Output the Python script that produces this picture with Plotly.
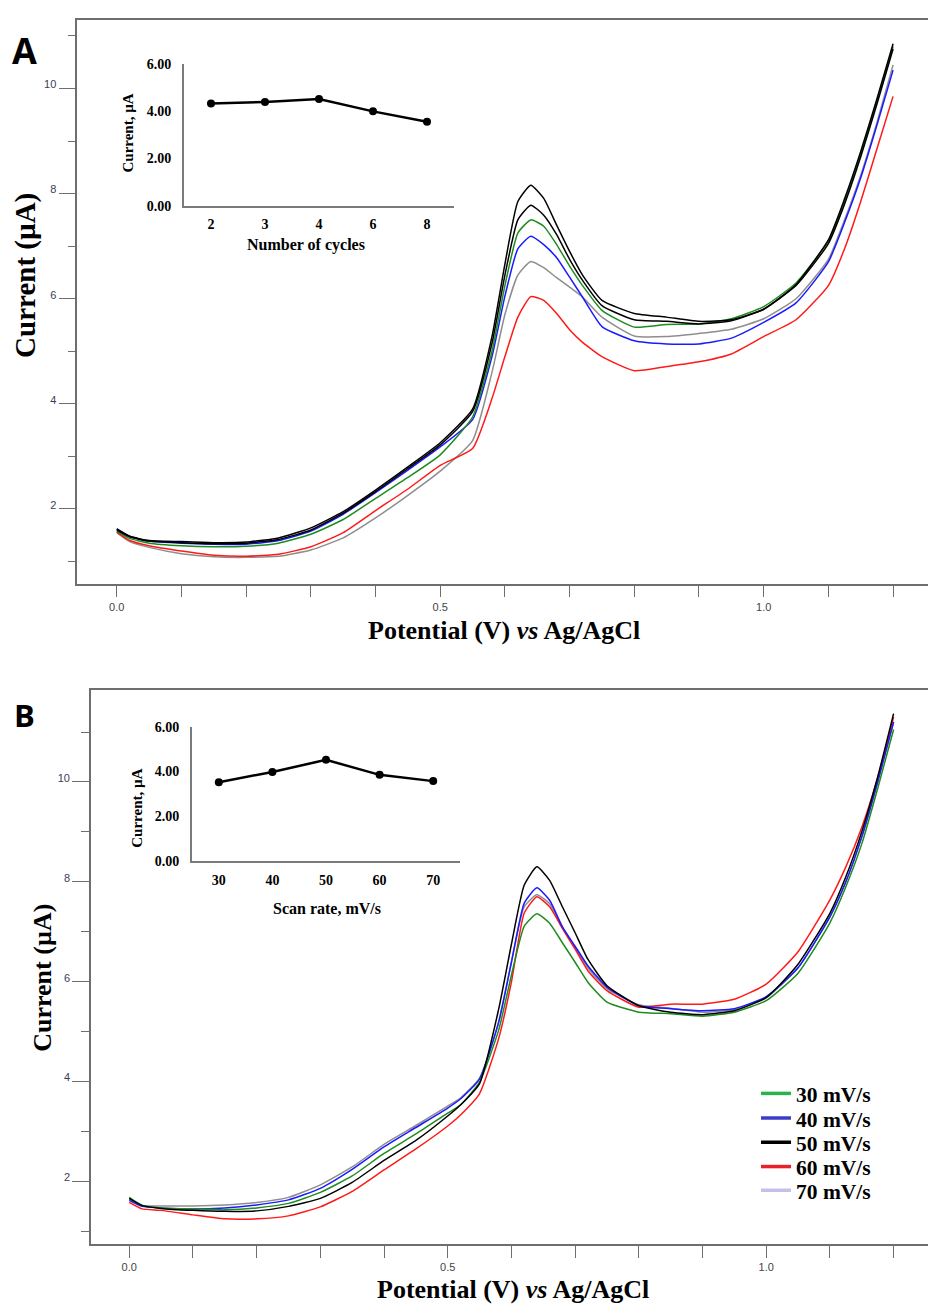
import plotly.graph_objects as go

W, H = 928, 1311

# ---------------- Panel A data (potential vs current) ----------------
VA = [0.0, 0.02, 0.05, 0.1, 0.15, 0.2, 0.25, 0.3, 0.35, 0.4, 0.45, 0.5, 0.55, 0.58, 0.6, 0.62,
      0.64, 0.66, 0.68, 0.7, 0.72, 0.75, 0.8, 0.85, 0.9, 0.95, 1.0, 1.05, 1.1, 1.125, 1.15, 1.175, 1.2]
A_black1 = [1.62, 1.48, 1.40, 1.38, 1.36, 1.37, 1.45, 1.64, 1.95, 2.36, 2.80, 3.26, 3.90, 5.28, 6.66, 7.85,
            8.16, 7.91, 7.40, 6.90, 6.45, 5.97, 5.72, 5.65, 5.57, 5.60, 5.80, 6.27, 7.12, 7.90, 8.80, 9.80, 10.85]
A_black2 = [1.60, 1.47, 1.39, 1.36, 1.34, 1.35, 1.42, 1.60, 1.92, 2.33, 2.77, 3.22, 3.85, 5.15, 6.45, 7.50,
            7.78, 7.59, 7.22, 6.75, 6.35, 5.87, 5.60, 5.57, 5.52, 5.58, 5.80, 6.25, 7.05, 7.80, 8.70, 9.70, 10.75]
A_green = [1.58, 1.44, 1.35, 1.30, 1.28, 1.29, 1.35, 1.52, 1.80, 2.20, 2.60, 3.03, 3.75, 5.00, 6.25, 7.25,
           7.50, 7.38, 7.03, 6.62, 6.25, 5.78, 5.46, 5.51, 5.52, 5.62, 5.85, 6.30, 7.10, 7.85, 8.75, 9.75, 10.80]
A_blue = [1.62, 1.48, 1.39, 1.35, 1.33, 1.33, 1.40, 1.58, 1.90, 2.31, 2.74, 3.18, 3.70, 4.90, 6.05, 6.95,
          7.19, 7.03, 6.78, 6.41, 6.03, 5.47, 5.20, 5.14, 5.14, 5.25, 5.55, 5.92, 6.70, 7.45, 8.30, 9.30, 10.35]
A_gray = [1.55, 1.38, 1.27, 1.15, 1.09, 1.08, 1.10, 1.22, 1.45, 1.83, 2.26, 2.72, 3.30, 4.60, 5.70, 6.45,
          6.71, 6.59, 6.40, 6.22, 6.03, 5.65, 5.29, 5.28, 5.34, 5.42, 5.62, 6.00, 6.75, 7.50, 8.35, 9.35, 10.45]
A_red = [1.56, 1.40, 1.30, 1.20, 1.12, 1.10, 1.14, 1.28, 1.55, 1.97, 2.38, 2.83, 3.15, 4.10, 4.90, 5.65,
         6.04, 5.97, 5.72, 5.41, 5.17, 4.90, 4.63, 4.71, 4.80, 4.95, 5.28, 5.60, 6.25, 6.95, 7.85, 8.85, 9.85]

# inset A
cycles = ["2", "3", "4", "6", "8"]
cycle_current = [4.32, 4.39, 4.51, 3.99, 3.55]

# ---------------- Panel B data ----------------
VB = [0.0, 0.02, 0.05, 0.1, 0.15, 0.2, 0.25, 0.3, 0.35, 0.4, 0.45, 0.5, 0.52, 0.55, 0.58, 0.6, 0.62,
      0.64, 0.66, 0.68, 0.7, 0.72, 0.75, 0.8, 0.85, 0.9, 0.95, 1.0, 1.05, 1.1, 1.125, 1.15, 1.175, 1.2]
B_30 = [1.68, 1.52, 1.47, 1.45, 1.43, 1.47, 1.56, 1.78, 2.11, 2.56, 2.95, 3.37, 3.53, 3.99, 5.03, 6.13, 7.11,
        7.36, 7.17, 6.78, 6.39, 5.99, 5.59, 5.39, 5.36, 5.31, 5.39, 5.62, 6.17, 7.18, 7.90, 8.76, 9.87, 11.05]
B_40 = [1.62, 1.50, 1.47, 1.45, 1.47, 1.53, 1.63, 1.86, 2.24, 2.69, 3.08, 3.47, 3.65, 4.05, 5.19, 6.39, 7.57,
        7.88, 7.63, 7.10, 6.71, 6.32, 5.89, 5.52, 5.46, 5.42, 5.46, 5.70, 6.28, 7.30, 8.00, 8.90, 10.00, 11.20]
B_50 = [1.66, 1.52, 1.46, 1.42, 1.40, 1.41, 1.50, 1.66, 1.98, 2.42, 2.82, 3.31, 3.53, 3.96, 5.45, 6.75, 7.93,
        8.30, 8.03, 7.50, 6.98, 6.45, 5.92, 5.52, 5.39, 5.34, 5.42, 5.68, 6.35, 7.37, 8.10, 9.00, 10.10, 11.37]
B_60 = [1.58, 1.45, 1.42, 1.33, 1.25, 1.25, 1.31, 1.49, 1.80, 2.23, 2.65, 3.11, 3.33, 3.76, 4.86, 5.99, 7.37,
        7.70, 7.50, 7.07, 6.65, 6.22, 5.82, 5.49, 5.55, 5.55, 5.65, 5.95, 6.60, 7.64, 8.30, 9.09, 10.08, 11.30]
B_70 = [1.65, 1.52, 1.51, 1.51, 1.53, 1.58, 1.68, 1.93, 2.29, 2.74, 3.12, 3.51, 3.67, 4.07, 5.19, 6.39, 7.50,
        7.74, 7.56, 7.10, 6.68, 6.28, 5.86, 5.54, 5.47, 5.39, 5.44, 5.68, 6.28, 7.30, 8.00, 8.90, 10.00, 11.20]
legend_names = ["30 mV/s", "40 mV/s", "50 mV/s", "60 mV/s", "70 mV/s"]

# inset B
rates = ["30", "40", "50", "60", "70"]
rate_current = [3.52, 3.98, 4.52, 3.85, 3.57]

# ---------------- styles ----------------
C_BLACK, C_GREEN, C_BLUE, C_RED, C_GRAY = "#000000", "#1e8c1e", "#1a1aff", "#ff1a1a", "#8e8e8e"
legend_colors = ["#2bb34b", "#3c3cc8", "#000000", "#e8202a", "#c6bfe6"]
AX = "#6e6e6e"
SERIF = "Liberation Serif"
NARROW = "Liberation Sans Narrow, Liberation Sans, Arial"


def px(x):
    return x / W


def py(y):
    return 1 - y / H


fig = go.Figure()

for ys, col in [(A_gray, C_GRAY), (A_red, C_RED), (A_blue, C_BLUE), (A_green, C_GREEN),
                (A_black2, C_BLACK), (A_black1, C_BLACK)]:
    fig.add_trace(go.Scatter(x=VA, y=ys, mode="lines", xaxis="x", yaxis="y", showlegend=False,
                             line=dict(color=col, width=1.5, shape="spline", smoothing=0.5)))

fig.add_trace(go.Scatter(x=cycles, y=cycle_current, mode="lines+markers", xaxis="x2", yaxis="y2",
                         showlegend=False, line=dict(color="black", width=2.5),
                         marker=dict(color="black", size=8)))

for ys, col in zip([B_70, B_60, B_40, B_30, B_50], [C_GRAY, C_RED, C_BLUE, C_GREEN, C_BLACK]):
    fig.add_trace(go.Scatter(x=VB, y=ys, mode="lines", xaxis="x3", yaxis="y3", showlegend=False,
                             line=dict(color=col, width=1.5, shape="spline", smoothing=0.5)))

fig.add_trace(go.Scatter(x=rates, y=rate_current, mode="lines+markers", xaxis="x4", yaxis="y4",
                         showlegend=False, line=dict(color="black", width=2.5),
                         marker=dict(color="black", size=8)))

# legend entries (each in its own legend box for exact row spacing)
leg_rows = [1099, 1124, 1148.5, 1173, 1197]
for i, (nm, col) in enumerate(zip(legend_names, legend_colors)):
    key = "legend" if i == 0 else f"legend{i + 1}"
    fig.add_trace(go.Scatter(x=[None], y=[None], mode="lines", xaxis="x3", yaxis="y3", name=nm,
                             legend=key, showlegend=True, line=dict(color=col, width=3.5)))
    fig.layout[key] = dict(x=px(756), xanchor="left", y=py(leg_rows[i]), yanchor="middle",
                           bgcolor="rgba(0,0,0,0)", borderwidth=0,
                           font=dict(family=SERIF, size=21.5, color="black", weight="bold"))


def main_x(domain_left, rng):
    return dict(domain=[px(domain_left), 1], range=rng, showgrid=False, zeroline=False,
                showline=True, linecolor=AX, linewidth=1.6, mirror=True,
                ticks="outside", ticklen=12, tickwidth=1.2, tickcolor=AX,
                tick0=0, dtick=0.5, tickformat=".1f",
                minor=dict(ticks="outside", ticklen=12, tickwidth=1.2, tickcolor=AX, tick0=0, dtick=0.1),
                tickfont=dict(family=NARROW, size=11, color="#444444"))


def main_y(bottom, top, rng):
    return dict(domain=[py(bottom), py(top)], range=rng, showgrid=False, zeroline=False,
                showline=True, linecolor=AX, linewidth=1.6, mirror=False,
                ticks="outside", ticklen=17, tickwidth=1.2, tickcolor=AX,
                tick0=0, dtick=2, ticklabelshift=-4,
                minor=dict(ticks="outside", ticklen=8, tickwidth=1.2, tickcolor=AX, tick0=0, dtick=1),
                tickfont=dict(family=NARROW, size=11, color="#3c3c58"))


def inset_x(left, right, anchor):
    return dict(domain=[px(left), px(right)], type="category", range=[-0.5, 4.5], anchor=anchor,
                showgrid=False, zeroline=False, showline=True, linecolor="#7a7a7a", linewidth=1.8,
                ticks="outside", ticklen=5, tickcolor="rgba(0,0,0,0)",
                tickfont=dict(family=SERIF, size=14, color="black", weight="bold"))


def inset_y(bottom, top, anchor):
    return dict(domain=[py(bottom), py(top)], range=[0, 6], dtick=2, tick0=0, tickformat=".2f",
                anchor=anchor, showgrid=False, zeroline=False, showline=True, linecolor="#7a7a7a",
                linewidth=1.8, ticks="outside", ticklen=8, tickcolor="rgba(0,0,0,0)",
                tickfont=dict(family=SERIF, size=14, color="black", weight="bold"))


fig.update_layout(
    width=W, height=H, margin=dict(l=0, r=0, t=0, b=0),
    paper_bgcolor="white", plot_bgcolor="rgba(0,0,0,0)",
    xaxis=dict(main_x(77.3, [-0.061, 1.254]), anchor="y"),
    yaxis=dict(main_y(583.3, 13.3, [0.58, 11.3]), anchor="x"),
    xaxis2=inset_x(184, 454, "y2"),
    yaxis2=inset_y(201, 57.5, "x2"),
    xaxis3=dict(main_x(91, [-0.060, 1.254]), anchor="y3"),
    yaxis3=dict(main_y(1251.5, 691, [0.743, 11.84]), anchor="x3"),
    xaxis4=inset_x(192, 460, "y4"),
    yaxis4=inset_y(864, 728, "x4"),
)


def note(text, x, y, size, family=SERIF, angle=0, weight="bold"):
    fig.add_annotation(text=text, x=px(x), y=py(y), xref="paper", yref="paper", showarrow=False,
                       xanchor="center", yanchor="middle", textangle=angle,
                       font=dict(family=family, size=size, color="black", weight=weight))


note("A", 24, 44, 36, family="Open Sans")
note("B", 24, 716, 31, family="Open Sans")
note("Current (µA)", 26, 272, 29, angle=-90)
note("Current (µA)", 43, 982, 26, angle=-90)
note("Potential (V) <i>vs</i> Ag/AgCl", 504, 631, 26)
note("Potential (V) <i>vs</i> Ag/AgCl", 513, 1297, 26)
note("Current, µA", 128, 128, 15, angle=-90)
note("Number of cycles", 306, 241, 16)
note("Current, µA", 137, 811, 15, angle=-90)
note("Scan rate, mV/s", 327, 912, 16)

fig.write_html("out.html")
